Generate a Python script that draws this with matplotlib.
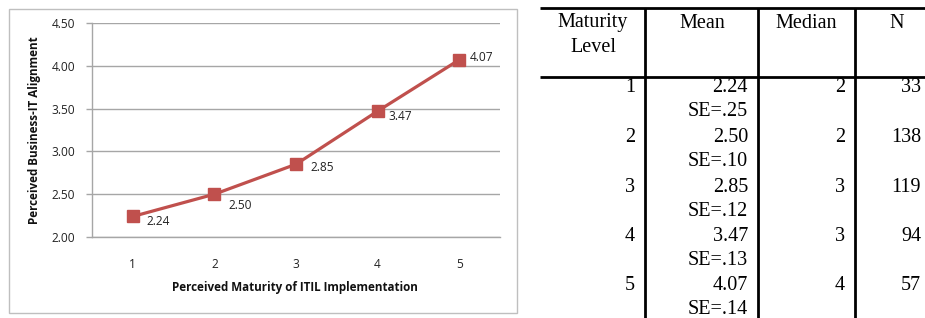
import matplotlib
matplotlib.use("Agg")
import matplotlib.pyplot as plt
from matplotlib.patches import Rectangle

# ---- data ----
maturity_levels = [1, 2, 3, 4, 5]
alignment_means = [2.24, 2.50, 2.85, 3.47, 4.07]
y_ticks = [2.00, 2.50, 3.00, 3.50, 4.00, 4.50]

table_headers = [["Maturity", "Level"], ["Mean"], ["Median"], ["N"]]
table_levels = ["1", "2", "3", "4", "5"]
table_means = ["2.24", "2.50", "2.85", "3.47", "4.07"]
table_se = ["SE=.25", "SE=.10", "SE=.12", "SE=.13", "SE=.14"]
table_medians = ["2", "2", "3", "3", "4"]
table_n = ["33", "138", "119", "94", "57"]

W, H = 925, 318
DPI = 100
fig = plt.figure(figsize=(W / DPI, H / DPI), dpi=DPI)

CHART_FONT = ["Open Sans", "DejaVu Sans"]
RED = "#C0504D"
GRID = "#A6A6A6"
TXT = "#222222"
TFS = 8.6

# chart border
bg = fig.add_axes([0, 0, 1, 1])
bg.set_xlim(0, W)
bg.set_ylim(H, 0)
bg.axis("off")
bg.add_patch(Rectangle((8.5, 8.5), 508, 304, fill=False, edgecolor="#BFBFBF", linewidth=1.0))

# plot area
L, R, T, B = 92, 500, 23, 237
ax = fig.add_axes([L / W, 1 - B / H, (R - L) / W, (B - T) / H])
ax.plot(maturity_levels, alignment_means, color=RED, linewidth=2.3,
        marker="s", markersize=8.5, zorder=3, clip_on=False)
ax.set_xlim(0.5, 5.5)
ax.set_ylim(2.0, 4.5)
ax.set_yticks(y_ticks)
ax.set_yticklabels([f"{v:.2f}" for v in y_ticks], fontfamily=CHART_FONT, fontsize=TFS, color=TXT)
ax.set_xticks(maturity_levels)
ax.set_xticklabels([str(v) for v in maturity_levels], fontfamily=CHART_FONT, fontsize=TFS, color=TXT)
ax.tick_params(axis="x", length=0, pad=15)
ax.tick_params(axis="y", length=4, width=1, color=GRID, pad=8)
for s in ["top", "right"]:
    ax.spines[s].set_visible(False)
for s in ["left", "bottom"]:
    ax.spines[s].set_color(GRID)
    ax.spines[s].set_linewidth(1.0)
ax.grid(axis="y", color=GRID, linewidth=1.0)
ax.set_axisbelow(True)

# data labels (offsets in pixels: right, down)
lab_dx = [14, 14, 14, 11, 11]
lab_dy = [5, 11, 3, 5, -2]
for x, y, dx, dy in zip(maturity_levels, alignment_means, lab_dx, lab_dy):
    ax.annotate(f"{y:.2f}", (x, y), xytext=(dx * 0.72, -dy * 0.72), textcoords="offset points",
                ha="left", va="center", fontsize=TFS, fontfamily=CHART_FONT, color=TXT,
                annotation_clip=False)

fig.text(295 / W, 1 - 288 / H, "Perceived Maturity of ITIL Implementation", ha="center", va="center",
         fontsize=8.4, fontweight="bold", fontfamily=CHART_FONT, color="#111111")
fig.text(35 / W, 1 - 130 / H, "Perceived Business-IT Alignment", ha="center", va="center",
         rotation=90, fontsize=8.4, fontweight="bold", fontfamily=CHART_FONT, color="#111111")

# ---- table ----
tb = bg
SERIF = ["Liberation Serif", "DejaVu Serif"]
FS = 14.5
lw = 2.0
tb.plot([540, W], [7.5, 7.5], color="black", linewidth=lw, solid_capstyle="butt")
tb.plot([540, W], [76.5, 76.5], color="black", linewidth=lw, solid_capstyle="butt")
for vx in [645, 758, 855]:
    tb.plot([vx, vx], [7.5, H], color="black", linewidth=lw, solid_capstyle="butt")

header_cx = [593, 702, 806, 897]
for cx, lines in zip(header_cx, table_headers):
    for k, t in enumerate(lines):
        tb.text(cx, 23 + 25 * k, t, ha="center", va="center", fontsize=FS, fontfamily=SERIF)

row0, row_step, se_gap = 88, 49.5, 24
for i in range(len(table_levels)):
    yv = row0 + row_step * i
    tb.text(635, yv, table_levels[i], ha="right", va="center", fontsize=FS, fontfamily=SERIF)
    tb.text(748, yv, table_means[i], ha="right", va="center", fontsize=FS, fontfamily=SERIF)
    tb.text(748, yv + se_gap, table_se[i], ha="right", va="center", fontsize=FS, fontfamily=SERIF)
    tb.text(845, yv, table_medians[i], ha="right", va="center", fontsize=FS, fontfamily=SERIF)
    tb.text(921, yv, table_n[i], ha="right", va="center", fontsize=FS, fontfamily=SERIF)

fig.savefig("out.png", dpi=DPI)
